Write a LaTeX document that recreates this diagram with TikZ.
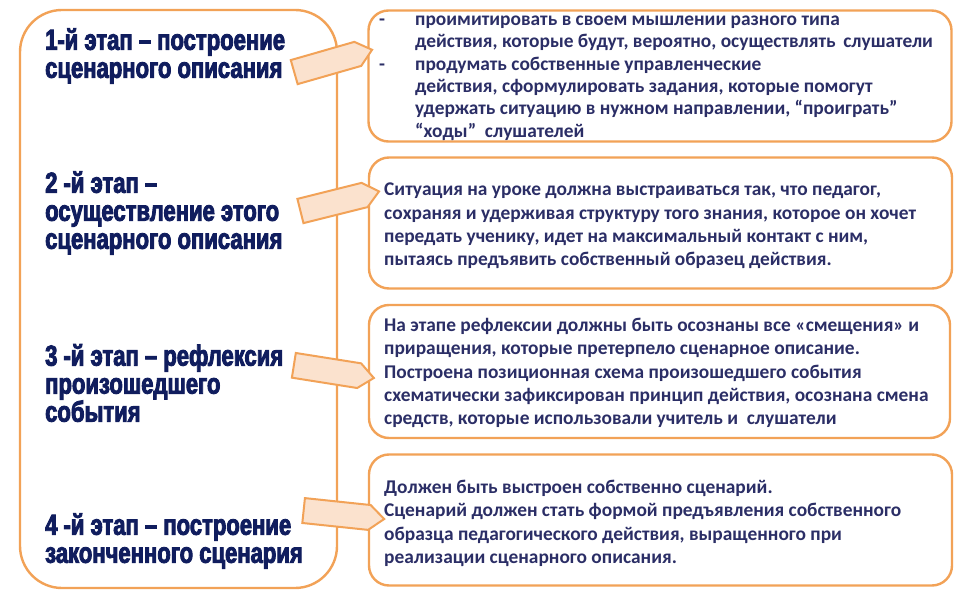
\documentclass[tikz,border=0pt]{standalone}
\usepackage{fontspec}
\setmainfont{Carlito}
\newfontfamily\stagefont{Liberation Sans}[UprightFont=* Bold, FakeStretch=0.76, FakeBold=3]
\usetikzlibrary{shapes.symbols, positioning}
\definecolor{warmorange}{HTML}{F2A257}
\definecolor{lightpeach}{HTML}{FBE2CE}
\definecolor{deepnavy}{HTML}{101D5E}
\definecolor{textnavy}{HTML}{2B2E66}

\begin{document}
\begin{tikzpicture}[
			x=1pt, y=-1pt,
			frame/.style={draw=warmorange, line width=2.4pt, fill=white, inner sep=0pt},
			descbox/.style={frame, rounded corners=20pt, minimum width=583pt, minimum height=131pt},
			stage/.style={anchor=west, align=left, text=deepnavy, inner sep=0pt,
				font=\stagefont\fontsize{29}{28}\selectfont},
			desc/.style={anchor=west, align=left, text=textnavy, inner sep=0pt,
				font=\bfseries\fontsize{19.4}{23.4}\selectfont},
			pointer/.style={shape=signal, signal to=east, signal pointer angle=80,
				draw=warmorange, line width=2pt, fill=lightpeach, inner sep=0pt,
				minimum width=81pt, minimum height=25pt}
			]

			\path[fill=white] (0,0) rectangle (964,604);

			% left column
			\node[frame, rounded corners=42pt, minimum width=317pt, minimum height=578pt] (stages) at (178.5,299) {};

			\node[stage] (s1) at (45,56) {1-й этап – построение\\сценарного описания};
			\node[stage] (s2) at (45,213) {2 -й этап –\\осуществление этого\\сценарного описания};
			\node[stage] (s3) at (45,383) {3 -й этап – рефлексия\\произошедшего\\события};
			\node[stage] (s4) at (45,541) {4 -й этап – построение\\законченного сценария};

			% right column
			\node[descbox] (d1) at (660,76) {};
			\node[descbox] (d2) at (660.5,223) {};
			\node[descbox, minimum width=581pt, minimum height=133pt] (d3) at (659.5,371.5) {};
			\node[descbox] (d4) at (660.5,520) {};

			\node[desc, font=\bfseries\fontsize{19.4}{22.4}\selectfont] (t1) at (379,78)
			{\makebox[36pt][l]{-}проимитировать в своем мышлении разного типа\\
			\hspace*{36pt}\makebox[428pt][l]{действия, которые будут, вероятно, осуществлять}слушатели\\
			\makebox[36pt][l]{-}продумать собственные управленческие\\
			\hspace*{36pt}действия, сформулировать задания, которые помогут\\
			\hspace*{36pt}удержать ситуацию в нужном направлении, “проиграть”\\
			\hspace*{36pt}“ходы”\ \ слушателей};

			\node[desc] (t2) at (384,226)
			{Ситуация на уроке должна выстраиваться так, что педагог,\\
			сохраняя и удерживая структуру того знания, которое он хочет\\
			передать ученику, идет на максимальный контакт с ним,\\
			пытаясь предъявить собственный образец действия.};

			\node[desc] (t3) at (384,373)
			{На этапе рефлексии должны быть осознаны все «смещения» и\\
			приращения, которые претерпело сценарное описание.\\
			Построена позиционная схема произошедшего события\\
			схематически зафиксирован принцип действия, осознана смена\\
			средств, которые использовали учитель и\ \ слушатели};

			\node[desc] (t4) at (384,523.5)
			{Должен быть выстроен собственно сценарий.\\
			Сценарий должен стать формой предъявления собственного\\
			образца педагогического действия, выращенного при\\
			реализации сценарного описания.};

			% pointers from stages to descriptions
			\foreach \n/\x/\y/\r in {1/326/63/16, 2/332.5/203/14, 3/326.5/370.5/-9, 4/336.5/514/-6} {
				\node[pointer, rotate=\r] (p\n) at (\x,\y) {};
			}

		\end{tikzpicture}
\end{document}
